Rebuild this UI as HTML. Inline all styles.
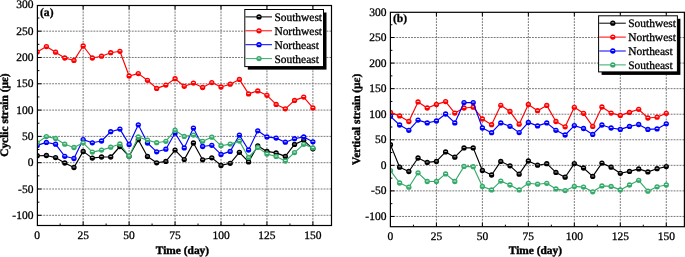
<!DOCTYPE html>
<html><head><meta charset="utf-8"><style>
html,body{margin:0;padding:0;background:#fff;}
svg{display:block;will-change:transform;}
text{text-rendering:geometricPrecision;}
text{font-family:"Liberation Serif",serif;font-size:11.5px;fill:#000;stroke:#000;stroke-width:0.3px;}
</style></head><body>
<svg width="685" height="257" viewBox="0 0 685 257">
<defs><g id="m_black"><circle r="2.65" fill="#000000"/><ellipse cx="0" cy="-0.5" rx="1.5" ry="0.5" fill="#b0b0b0"/></g><g id="m_red"><circle r="2.65" fill="#ff0000"/><ellipse cx="0" cy="-0.5" rx="1.5" ry="0.5" fill="#ffe0e0"/></g><g id="m_blue"><circle r="2.65" fill="#0000ff"/><ellipse cx="0" cy="-0.5" rx="1.5" ry="0.5" fill="#d8d8ff"/></g><g id="m_green"><circle r="2.65" fill="#36aa6a"/><ellipse cx="0" cy="-0.5" rx="1.5" ry="0.5" fill="#e0f8ea"/></g></defs>
<rect width="685" height="257" fill="#fff"/>
<path d="M83.15 5.5V225.5 M129.1 5.5V225.5 M175.05 5.5V225.5 M221 5.5V225.5 M266.95 5.5V225.5 M312.9 5.5V225.5 M37.4 31.17H331.5 M37.4 57.48H331.5 M37.4 83.78H331.5 M37.4 110.09H331.5 M37.4 136.39H331.5 M37.4 162.7H331.5 M37.4 189H331.5 M37.4 215.31H331.5" stroke="#787878" stroke-width="1" stroke-dasharray="1.9,1.05" fill="none"/>
<path d="M83.15 225.5v-4 M83.15 5.5v4 M129.1 225.5v-4 M129.1 5.5v4 M175.05 225.5v-4 M175.05 5.5v4 M221 225.5v-4 M221 5.5v4 M266.95 225.5v-4 M266.95 5.5v4 M312.9 225.5v-4 M312.9 5.5v4 M60.17 225.5v-2 M106.12 225.5v-2 M152.07 225.5v-2 M198.02 225.5v-2 M243.97 225.5v-2 M289.93 225.5v-2 M37.4 215.31h4 M37.4 189h4 M37.4 162.7h4 M37.4 136.39h4 M37.4 110.09h4 M37.4 83.78h4 M37.4 57.48h4 M37.4 31.17h4 M37.4 202.16h2 M37.4 175.85h2 M37.4 149.55h2 M37.4 123.24h2 M37.4 96.94h2 M37.4 70.63h2 M37.4 44.33h2 M37.4 18.02h2" stroke="#000" stroke-width="1" fill="none"/>
<clipPath id="ca"><rect x="37.4" y="5.5" width="294.1" height="220"/></clipPath>
<g clip-path="url(#ca)">
<path d="M37.2 155.7 L46.39 155.5 L55.58 157.6 L64.77 163 L73.96 167.5 L83.15 151.4 L92.34 158.1 L101.53 157 L110.72 157 L119.91 146.5 L129.1 156.3 L138.29 139.7 L147.48 156.5 L156.67 162.8 L165.86 161.4 L175.05 150.1 L184.24 159.6 L193.43 143 L202.62 159.8 L211.81 157.8 L221 165.4 L230.19 163.3 L239.38 152.3 L248.57 161.9 L257.76 145.8 L266.95 151.4 L276.14 152.9 L285.33 156.4 L294.52 144.4 L303.71 140.3 L312.9 148.8" stroke="#000000" stroke-width="1.15" fill="none" stroke-linejoin="round"/>
<use href="#m_black" x="37.2" y="155.7"/>
<use href="#m_black" x="46.39" y="155.5"/>
<use href="#m_black" x="55.58" y="157.6"/>
<use href="#m_black" x="64.77" y="163"/>
<use href="#m_black" x="73.96" y="167.5"/>
<use href="#m_black" x="83.15" y="151.4"/>
<use href="#m_black" x="92.34" y="158.1"/>
<use href="#m_black" x="101.53" y="157"/>
<use href="#m_black" x="110.72" y="157"/>
<use href="#m_black" x="119.91" y="146.5"/>
<use href="#m_black" x="129.1" y="156.3"/>
<use href="#m_black" x="138.29" y="139.7"/>
<use href="#m_black" x="147.48" y="156.5"/>
<use href="#m_black" x="156.67" y="162.8"/>
<use href="#m_black" x="165.86" y="161.4"/>
<use href="#m_black" x="175.05" y="150.1"/>
<use href="#m_black" x="184.24" y="159.6"/>
<use href="#m_black" x="193.43" y="143"/>
<use href="#m_black" x="202.62" y="159.8"/>
<use href="#m_black" x="211.81" y="157.8"/>
<use href="#m_black" x="221" y="165.4"/>
<use href="#m_black" x="230.19" y="163.3"/>
<use href="#m_black" x="239.38" y="152.3"/>
<use href="#m_black" x="248.57" y="161.9"/>
<use href="#m_black" x="257.76" y="145.8"/>
<use href="#m_black" x="266.95" y="151.4"/>
<use href="#m_black" x="276.14" y="152.9"/>
<use href="#m_black" x="285.33" y="156.4"/>
<use href="#m_black" x="294.52" y="144.4"/>
<use href="#m_black" x="303.71" y="140.3"/>
<use href="#m_black" x="312.9" y="148.8"/>
<path d="M37.2 52 L46.39 46.6 L55.58 52.2 L64.77 58 L73.96 60.4 L83.15 46 L92.34 58 L101.53 56.2 L110.72 52.7 L119.91 51.3 L129.1 76 L138.29 73.6 L147.48 80.3 L156.67 88.4 L165.86 85.1 L175.05 78.7 L184.24 86.3 L193.43 83.1 L202.62 87.5 L211.81 82.6 L221 87 L230.19 84.2 L239.38 79.4 L248.57 93.9 L257.76 90.9 L266.95 95.3 L276.14 104.4 L285.33 108.8 L294.52 100.4 L303.71 97.1 L312.9 107.9" stroke="#ff0000" stroke-width="1.15" fill="none" stroke-linejoin="round"/>
<use href="#m_red" x="37.2" y="52"/>
<use href="#m_red" x="46.39" y="46.6"/>
<use href="#m_red" x="55.58" y="52.2"/>
<use href="#m_red" x="64.77" y="58"/>
<use href="#m_red" x="73.96" y="60.4"/>
<use href="#m_red" x="83.15" y="46"/>
<use href="#m_red" x="92.34" y="58"/>
<use href="#m_red" x="101.53" y="56.2"/>
<use href="#m_red" x="110.72" y="52.7"/>
<use href="#m_red" x="119.91" y="51.3"/>
<use href="#m_red" x="129.1" y="76"/>
<use href="#m_red" x="138.29" y="73.6"/>
<use href="#m_red" x="147.48" y="80.3"/>
<use href="#m_red" x="156.67" y="88.4"/>
<use href="#m_red" x="165.86" y="85.1"/>
<use href="#m_red" x="175.05" y="78.7"/>
<use href="#m_red" x="184.24" y="86.3"/>
<use href="#m_red" x="193.43" y="83.1"/>
<use href="#m_red" x="202.62" y="87.5"/>
<use href="#m_red" x="211.81" y="82.6"/>
<use href="#m_red" x="221" y="87"/>
<use href="#m_red" x="230.19" y="84.2"/>
<use href="#m_red" x="239.38" y="79.4"/>
<use href="#m_red" x="248.57" y="93.9"/>
<use href="#m_red" x="257.76" y="90.9"/>
<use href="#m_red" x="266.95" y="95.3"/>
<use href="#m_red" x="276.14" y="104.4"/>
<use href="#m_red" x="285.33" y="108.8"/>
<use href="#m_red" x="294.52" y="100.4"/>
<use href="#m_red" x="303.71" y="97.1"/>
<use href="#m_red" x="312.9" y="107.9"/>
<path d="M37.2 145.4 L46.39 142.4 L55.58 144.2 L64.77 156.3 L73.96 158.5 L83.15 139.6 L92.34 142.8 L101.53 141 L110.72 131.7 L119.91 129.1 L129.1 144.4 L138.29 124.8 L147.48 143 L156.67 151.8 L165.86 149.2 L175.05 133 L184.24 147.9 L193.43 128.1 L202.62 146.5 L211.81 145.3 L221 154.4 L230.19 151.4 L239.38 135.1 L248.57 150 L257.76 130.8 L266.95 136.9 L276.14 138.1 L285.33 142.2 L294.52 138.7 L303.71 136.9 L312.9 141.8" stroke="#0000ff" stroke-width="1.15" fill="none" stroke-linejoin="round"/>
<use href="#m_blue" x="37.2" y="145.4"/>
<use href="#m_blue" x="46.39" y="142.4"/>
<use href="#m_blue" x="55.58" y="144.2"/>
<use href="#m_blue" x="64.77" y="156.3"/>
<use href="#m_blue" x="73.96" y="158.5"/>
<use href="#m_blue" x="83.15" y="139.6"/>
<use href="#m_blue" x="92.34" y="142.8"/>
<use href="#m_blue" x="101.53" y="141"/>
<use href="#m_blue" x="110.72" y="131.7"/>
<use href="#m_blue" x="119.91" y="129.1"/>
<use href="#m_blue" x="129.1" y="144.4"/>
<use href="#m_blue" x="138.29" y="124.8"/>
<use href="#m_blue" x="147.48" y="143"/>
<use href="#m_blue" x="156.67" y="151.8"/>
<use href="#m_blue" x="165.86" y="149.2"/>
<use href="#m_blue" x="175.05" y="133"/>
<use href="#m_blue" x="184.24" y="147.9"/>
<use href="#m_blue" x="193.43" y="128.1"/>
<use href="#m_blue" x="202.62" y="146.5"/>
<use href="#m_blue" x="211.81" y="145.3"/>
<use href="#m_blue" x="221" y="154.4"/>
<use href="#m_blue" x="230.19" y="151.4"/>
<use href="#m_blue" x="239.38" y="135.1"/>
<use href="#m_blue" x="248.57" y="150"/>
<use href="#m_blue" x="257.76" y="130.8"/>
<use href="#m_blue" x="266.95" y="136.9"/>
<use href="#m_blue" x="276.14" y="138.1"/>
<use href="#m_blue" x="285.33" y="142.2"/>
<use href="#m_blue" x="294.52" y="138.7"/>
<use href="#m_blue" x="303.71" y="136.9"/>
<use href="#m_blue" x="312.9" y="141.8"/>
<path d="M37.2 142.8 L46.39 136.6 L55.58 138.4 L64.77 144.2 L73.96 147.5 L83.15 142.8 L92.34 152.1 L101.53 150.1 L110.72 147.2 L119.91 144 L129.1 156.3 L138.29 137 L147.48 140.1 L156.67 142.7 L165.86 141.3 L175.05 130.2 L184.24 136.4 L193.43 135.1 L202.62 141.3 L211.81 137.2 L221 145.7 L230.19 144.1 L239.38 141.1 L248.57 157.5 L257.76 147.4 L266.95 154 L276.14 156.4 L285.33 161 L294.52 152.6 L303.71 144.3 L312.9 147.9" stroke="#36aa6a" stroke-width="1.15" fill="none" stroke-linejoin="round"/>
<use href="#m_green" x="37.2" y="142.8"/>
<use href="#m_green" x="46.39" y="136.6"/>
<use href="#m_green" x="55.58" y="138.4"/>
<use href="#m_green" x="64.77" y="144.2"/>
<use href="#m_green" x="73.96" y="147.5"/>
<use href="#m_green" x="83.15" y="142.8"/>
<use href="#m_green" x="92.34" y="152.1"/>
<use href="#m_green" x="101.53" y="150.1"/>
<use href="#m_green" x="110.72" y="147.2"/>
<use href="#m_green" x="119.91" y="144"/>
<use href="#m_green" x="129.1" y="156.3"/>
<use href="#m_green" x="138.29" y="137"/>
<use href="#m_green" x="147.48" y="140.1"/>
<use href="#m_green" x="156.67" y="142.7"/>
<use href="#m_green" x="165.86" y="141.3"/>
<use href="#m_green" x="175.05" y="130.2"/>
<use href="#m_green" x="184.24" y="136.4"/>
<use href="#m_green" x="193.43" y="135.1"/>
<use href="#m_green" x="202.62" y="141.3"/>
<use href="#m_green" x="211.81" y="137.2"/>
<use href="#m_green" x="221" y="145.7"/>
<use href="#m_green" x="230.19" y="144.1"/>
<use href="#m_green" x="239.38" y="141.1"/>
<use href="#m_green" x="248.57" y="157.5"/>
<use href="#m_green" x="257.76" y="147.4"/>
<use href="#m_green" x="266.95" y="154"/>
<use href="#m_green" x="276.14" y="156.4"/>
<use href="#m_green" x="285.33" y="161"/>
<use href="#m_green" x="294.52" y="152.6"/>
<use href="#m_green" x="303.71" y="144.3"/>
<use href="#m_green" x="312.9" y="147.9"/>
</g>
<rect x="37.4" y="5.5" width="294.1" height="220" fill="none" stroke="#000" stroke-width="1.2"/>
<text x="33.4" y="218.86" text-anchor="end">-100</text>
<text x="33.4" y="192.56" text-anchor="end">-50</text>
<text x="33.4" y="166.25" text-anchor="end">0</text>
<text x="33.4" y="139.94" text-anchor="end">50</text>
<text x="33.4" y="113.64" text-anchor="end">100</text>
<text x="33.4" y="87.33" text-anchor="end">150</text>
<text x="33.4" y="61.03" text-anchor="end">200</text>
<text x="33.4" y="34.72" text-anchor="end">250</text>
<text x="33.4" y="8.42" text-anchor="end">300</text>
<text x="37.2" y="239.3" text-anchor="middle">0</text>
<text x="83.15" y="239.3" text-anchor="middle">25</text>
<text x="129.1" y="239.3" text-anchor="middle">50</text>
<text x="175.05" y="239.3" text-anchor="middle">75</text>
<text x="221" y="239.3" text-anchor="middle">100</text>
<text x="266.95" y="239.3" text-anchor="middle">125</text>
<text x="312.9" y="239.3" text-anchor="middle">150</text>
<text x="182.45" y="254.4" text-anchor="middle" font-weight="bold" style="stroke-width:0.4px;font-size:11.4px">Time (day)</text>
<text transform="translate(8.2 115.1) rotate(-90)" text-anchor="middle" font-weight="bold" style="stroke-width:0.4px;font-size:11.4px">Cyclic strain (με)</text>
<text x="40" y="15.6" font-weight="bold" style="font-size:11.6px">(a)</text>
<rect x="247.8" y="12.5" width="78.7" height="57.1" fill="#000"/>
<rect x="244.8" y="9.5" width="78.7" height="57.1" fill="#fff" stroke="#000" stroke-width="1"/>
<path d="M245.4 16.9H272" stroke="#000000" stroke-width="1"/>
<use href="#m_black" x="259" y="16.9"/>
<text x="274.4" y="20.9" style="font-size:11.45px">Southwest</text>
<path d="M245.4 30.8H272" stroke="#ff0000" stroke-width="1"/>
<use href="#m_red" x="259" y="30.8"/>
<text x="274.4" y="34.8" style="font-size:11.45px">Northwest</text>
<path d="M245.4 44.7H272" stroke="#0000ff" stroke-width="1"/>
<use href="#m_blue" x="259" y="44.7"/>
<text x="274.4" y="48.7" style="font-size:11.45px">Northeast</text>
<path d="M245.4 58.6H272" stroke="#36aa6a" stroke-width="1"/>
<use href="#m_green" x="259" y="58.6"/>
<text x="274.4" y="62.6" style="font-size:11.45px">Southeast</text>
<path d="M436.42 12.3V226.7 M482.39 12.3V226.7 M528.36 12.3V226.7 M574.33 12.3V226.7 M620.3 12.3V226.7 M666.27 12.3V226.7 M390.4 37.53H684.4 M390.4 63.09H684.4 M390.4 88.65H684.4 M390.4 114.21H684.4 M390.4 139.77H684.4 M390.4 165.33H684.4 M390.4 190.89H684.4 M390.4 216.45H684.4" stroke="#787878" stroke-width="1" stroke-dasharray="1.9,1.05" fill="none"/>
<path d="M436.42 226.7v-4 M436.42 12.3v4 M482.39 226.7v-4 M482.39 12.3v4 M528.36 226.7v-4 M528.36 12.3v4 M574.33 226.7v-4 M574.33 12.3v4 M620.3 226.7v-4 M620.3 12.3v4 M666.27 226.7v-4 M666.27 12.3v4 M413.44 226.7v-2 M459.4 226.7v-2 M505.38 226.7v-2 M551.35 226.7v-2 M597.32 226.7v-2 M643.29 226.7v-2 M390.4 216.45h4 M390.4 190.89h4 M390.4 165.33h4 M390.4 139.77h4 M390.4 114.21h4 M390.4 88.65h4 M390.4 63.09h4 M390.4 37.53h4 M390.4 203.67h2 M390.4 178.11h2 M390.4 152.55h2 M390.4 126.99h2 M390.4 101.43h2 M390.4 75.87h2 M390.4 50.31h2 M390.4 24.75h2" stroke="#000" stroke-width="1" fill="none"/>
<clipPath id="cb"><rect x="390.4" y="12.3" width="294" height="214.4"/></clipPath>
<g clip-path="url(#cb)">
<path d="M390.45 144.7 L399.64 167.2 L408.84 171.5 L418.03 158 L427.23 162.4 L436.42 161.4 L445.61 151.9 L454.81 157.2 L464 147.9 L473.2 147.9 L482.39 170.5 L491.58 175 L500.78 161.4 L509.97 165.8 L519.17 174.2 L528.36 160.9 L537.55 165.2 L546.75 163.7 L555.94 172.4 L565.14 177.2 L574.33 163.6 L583.52 168 L592.72 176.4 L601.91 163.1 L611.11 167.2 L620.3 173.3 L629.49 171.4 L638.69 168.9 L647.88 171.9 L657.08 168.7 L666.27 166.6" stroke="#000000" stroke-width="1.15" fill="none" stroke-linejoin="round"/>
<use href="#m_black" x="390.45" y="144.7"/>
<use href="#m_black" x="399.64" y="167.2"/>
<use href="#m_black" x="408.84" y="171.5"/>
<use href="#m_black" x="418.03" y="158"/>
<use href="#m_black" x="427.23" y="162.4"/>
<use href="#m_black" x="436.42" y="161.4"/>
<use href="#m_black" x="445.61" y="151.9"/>
<use href="#m_black" x="454.81" y="157.2"/>
<use href="#m_black" x="464" y="147.9"/>
<use href="#m_black" x="473.2" y="147.9"/>
<use href="#m_black" x="482.39" y="170.5"/>
<use href="#m_black" x="491.58" y="175"/>
<use href="#m_black" x="500.78" y="161.4"/>
<use href="#m_black" x="509.97" y="165.8"/>
<use href="#m_black" x="519.17" y="174.2"/>
<use href="#m_black" x="528.36" y="160.9"/>
<use href="#m_black" x="537.55" y="165.2"/>
<use href="#m_black" x="546.75" y="163.7"/>
<use href="#m_black" x="555.94" y="172.4"/>
<use href="#m_black" x="565.14" y="177.2"/>
<use href="#m_black" x="574.33" y="163.6"/>
<use href="#m_black" x="583.52" y="168"/>
<use href="#m_black" x="592.72" y="176.4"/>
<use href="#m_black" x="601.91" y="163.1"/>
<use href="#m_black" x="611.11" y="167.2"/>
<use href="#m_black" x="620.3" y="173.3"/>
<use href="#m_black" x="629.49" y="171.4"/>
<use href="#m_black" x="638.69" y="168.9"/>
<use href="#m_black" x="647.88" y="171.9"/>
<use href="#m_black" x="657.08" y="168.7"/>
<use href="#m_black" x="666.27" y="166.6"/>
<path d="M390.45 112.4 L399.64 115.9 L408.84 121.5 L418.03 101.9 L427.23 108 L436.42 104.4 L445.61 101.6 L454.81 113.1 L464 108 L473.2 107.2 L482.39 118.9 L491.58 124.7 L500.78 105.3 L509.97 111.4 L519.17 124.2 L528.36 104.5 L537.55 110.7 L546.75 105.4 L555.94 121.5 L565.14 126.8 L574.33 107.3 L583.52 113.3 L592.72 126.4 L601.91 107 L611.11 113.1 L620.3 115.4 L629.49 112.4 L638.69 109.3 L647.88 118 L657.08 117.2 L666.27 113.3" stroke="#ff0000" stroke-width="1.15" fill="none" stroke-linejoin="round"/>
<use href="#m_red" x="390.45" y="112.4"/>
<use href="#m_red" x="399.64" y="115.9"/>
<use href="#m_red" x="408.84" y="121.5"/>
<use href="#m_red" x="418.03" y="101.9"/>
<use href="#m_red" x="427.23" y="108"/>
<use href="#m_red" x="436.42" y="104.4"/>
<use href="#m_red" x="445.61" y="101.6"/>
<use href="#m_red" x="454.81" y="113.1"/>
<use href="#m_red" x="464" y="108"/>
<use href="#m_red" x="473.2" y="107.2"/>
<use href="#m_red" x="482.39" y="118.9"/>
<use href="#m_red" x="491.58" y="124.7"/>
<use href="#m_red" x="500.78" y="105.3"/>
<use href="#m_red" x="509.97" y="111.4"/>
<use href="#m_red" x="519.17" y="124.2"/>
<use href="#m_red" x="528.36" y="104.5"/>
<use href="#m_red" x="537.55" y="110.7"/>
<use href="#m_red" x="546.75" y="105.4"/>
<use href="#m_red" x="555.94" y="121.5"/>
<use href="#m_red" x="565.14" y="126.8"/>
<use href="#m_red" x="574.33" y="107.3"/>
<use href="#m_red" x="583.52" y="113.3"/>
<use href="#m_red" x="592.72" y="126.4"/>
<use href="#m_red" x="601.91" y="107"/>
<use href="#m_red" x="611.11" y="113.1"/>
<use href="#m_red" x="620.3" y="115.4"/>
<use href="#m_red" x="629.49" y="112.4"/>
<use href="#m_red" x="638.69" y="109.3"/>
<use href="#m_red" x="647.88" y="118"/>
<use href="#m_red" x="657.08" y="117.2"/>
<use href="#m_red" x="666.27" y="113.3"/>
<path d="M390.45 116.3 L399.64 125 L408.84 130.3 L418.03 120.1 L427.23 122.9 L436.42 121 L445.61 114 L454.81 122.9 L464 102.6 L473.2 102.6 L482.39 128 L491.58 132.7 L500.78 122.9 L509.97 126.3 L519.17 132.6 L528.36 122.4 L537.55 125.9 L546.75 122.9 L555.94 130.3 L565.14 135 L574.33 125.6 L583.52 128.5 L592.72 134.4 L601.91 125 L611.11 128 L620.3 129.4 L629.49 126.4 L638.69 124.5 L647.88 129.4 L657.08 128.9 L666.27 123.8" stroke="#0000ff" stroke-width="1.15" fill="none" stroke-linejoin="round"/>
<use href="#m_blue" x="390.45" y="116.3"/>
<use href="#m_blue" x="399.64" y="125"/>
<use href="#m_blue" x="408.84" y="130.3"/>
<use href="#m_blue" x="418.03" y="120.1"/>
<use href="#m_blue" x="427.23" y="122.9"/>
<use href="#m_blue" x="436.42" y="121"/>
<use href="#m_blue" x="445.61" y="114"/>
<use href="#m_blue" x="454.81" y="122.9"/>
<use href="#m_blue" x="464" y="102.6"/>
<use href="#m_blue" x="473.2" y="102.6"/>
<use href="#m_blue" x="482.39" y="128"/>
<use href="#m_blue" x="491.58" y="132.7"/>
<use href="#m_blue" x="500.78" y="122.9"/>
<use href="#m_blue" x="509.97" y="126.3"/>
<use href="#m_blue" x="519.17" y="132.6"/>
<use href="#m_blue" x="528.36" y="122.4"/>
<use href="#m_blue" x="537.55" y="125.9"/>
<use href="#m_blue" x="546.75" y="122.9"/>
<use href="#m_blue" x="555.94" y="130.3"/>
<use href="#m_blue" x="565.14" y="135"/>
<use href="#m_blue" x="574.33" y="125.6"/>
<use href="#m_blue" x="583.52" y="128.5"/>
<use href="#m_blue" x="592.72" y="134.4"/>
<use href="#m_blue" x="601.91" y="125"/>
<use href="#m_blue" x="611.11" y="128"/>
<use href="#m_blue" x="620.3" y="129.4"/>
<use href="#m_blue" x="629.49" y="126.4"/>
<use href="#m_blue" x="638.69" y="124.5"/>
<use href="#m_blue" x="647.88" y="129.4"/>
<use href="#m_blue" x="657.08" y="128.9"/>
<use href="#m_blue" x="666.27" y="123.8"/>
<path d="M390.45 170.6 L399.64 183 L408.84 187.2 L418.03 172.8 L427.23 181.5 L436.42 181.5 L445.61 173.9 L454.81 181.5 L464 166.4 L473.2 166.7 L482.39 186.5 L491.58 189.9 L500.78 181.1 L509.97 185 L519.17 189.9 L528.36 183.3 L537.55 184.2 L546.75 183.3 L555.94 188.9 L565.14 190.6 L574.33 186.4 L583.52 187.1 L592.72 191.8 L601.91 185.9 L611.11 186.4 L620.3 189.9 L629.49 185 L638.69 180.3 L647.88 191.2 L657.08 186.8 L666.27 185" stroke="#36aa6a" stroke-width="1.15" fill="none" stroke-linejoin="round"/>
<use href="#m_green" x="390.45" y="170.6"/>
<use href="#m_green" x="399.64" y="183"/>
<use href="#m_green" x="408.84" y="187.2"/>
<use href="#m_green" x="418.03" y="172.8"/>
<use href="#m_green" x="427.23" y="181.5"/>
<use href="#m_green" x="436.42" y="181.5"/>
<use href="#m_green" x="445.61" y="173.9"/>
<use href="#m_green" x="454.81" y="181.5"/>
<use href="#m_green" x="464" y="166.4"/>
<use href="#m_green" x="473.2" y="166.7"/>
<use href="#m_green" x="482.39" y="186.5"/>
<use href="#m_green" x="491.58" y="189.9"/>
<use href="#m_green" x="500.78" y="181.1"/>
<use href="#m_green" x="509.97" y="185"/>
<use href="#m_green" x="519.17" y="189.9"/>
<use href="#m_green" x="528.36" y="183.3"/>
<use href="#m_green" x="537.55" y="184.2"/>
<use href="#m_green" x="546.75" y="183.3"/>
<use href="#m_green" x="555.94" y="188.9"/>
<use href="#m_green" x="565.14" y="190.6"/>
<use href="#m_green" x="574.33" y="186.4"/>
<use href="#m_green" x="583.52" y="187.1"/>
<use href="#m_green" x="592.72" y="191.8"/>
<use href="#m_green" x="601.91" y="185.9"/>
<use href="#m_green" x="611.11" y="186.4"/>
<use href="#m_green" x="620.3" y="189.9"/>
<use href="#m_green" x="629.49" y="185"/>
<use href="#m_green" x="638.69" y="180.3"/>
<use href="#m_green" x="647.88" y="191.2"/>
<use href="#m_green" x="657.08" y="186.8"/>
<use href="#m_green" x="666.27" y="185"/>
</g>
<rect x="390.4" y="12.3" width="294" height="214.4" fill="none" stroke="#000" stroke-width="1.2"/>
<text x="386.4" y="220" text-anchor="end">-100</text>
<text x="386.4" y="194.44" text-anchor="end">-50</text>
<text x="386.4" y="168.88" text-anchor="end">0</text>
<text x="386.4" y="143.32" text-anchor="end">50</text>
<text x="386.4" y="117.76" text-anchor="end">100</text>
<text x="386.4" y="92.2" text-anchor="end">150</text>
<text x="386.4" y="66.64" text-anchor="end">200</text>
<text x="386.4" y="41.08" text-anchor="end">250</text>
<text x="386.4" y="15.52" text-anchor="end">300</text>
<text x="390.45" y="239.8" text-anchor="middle">0</text>
<text x="436.42" y="239.8" text-anchor="middle">25</text>
<text x="482.39" y="239.8" text-anchor="middle">50</text>
<text x="528.36" y="239.8" text-anchor="middle">75</text>
<text x="574.33" y="239.8" text-anchor="middle">100</text>
<text x="620.3" y="239.8" text-anchor="middle">125</text>
<text x="666.27" y="239.8" text-anchor="middle">150</text>
<text x="535.4" y="254.4" text-anchor="middle" font-weight="bold" style="stroke-width:0.4px;font-size:11.4px">Time (day)</text>
<text transform="translate(360.3 119.4) rotate(-90)" text-anchor="middle" font-weight="bold" style="stroke-width:0.4px;font-size:11.4px">Vertical strain (με)</text>
<text x="393" y="22.4" font-weight="bold" style="font-size:11.6px">(b)</text>
<rect x="601.6" y="18.8" width="78.8" height="56.1" fill="#000"/>
<rect x="598.6" y="15.8" width="78.8" height="56.1" fill="#fff" stroke="#000" stroke-width="1"/>
<path d="M599.2 23.2H625.8" stroke="#000000" stroke-width="1"/>
<use href="#m_black" x="612.8" y="23.2"/>
<text x="628.2" y="27.2" style="font-size:11.45px">Southwest</text>
<path d="M599.2 37.1H625.8" stroke="#ff0000" stroke-width="1"/>
<use href="#m_red" x="612.8" y="37.1"/>
<text x="628.2" y="41.1" style="font-size:11.45px">Northwest</text>
<path d="M599.2 51H625.8" stroke="#0000ff" stroke-width="1"/>
<use href="#m_blue" x="612.8" y="51"/>
<text x="628.2" y="55" style="font-size:11.45px">Northeast</text>
<path d="M599.2 64.9H625.8" stroke="#36aa6a" stroke-width="1"/>
<use href="#m_green" x="612.8" y="64.9"/>
<text x="628.2" y="68.9" style="font-size:11.45px">Southeast</text>
</svg>
</body></html>
